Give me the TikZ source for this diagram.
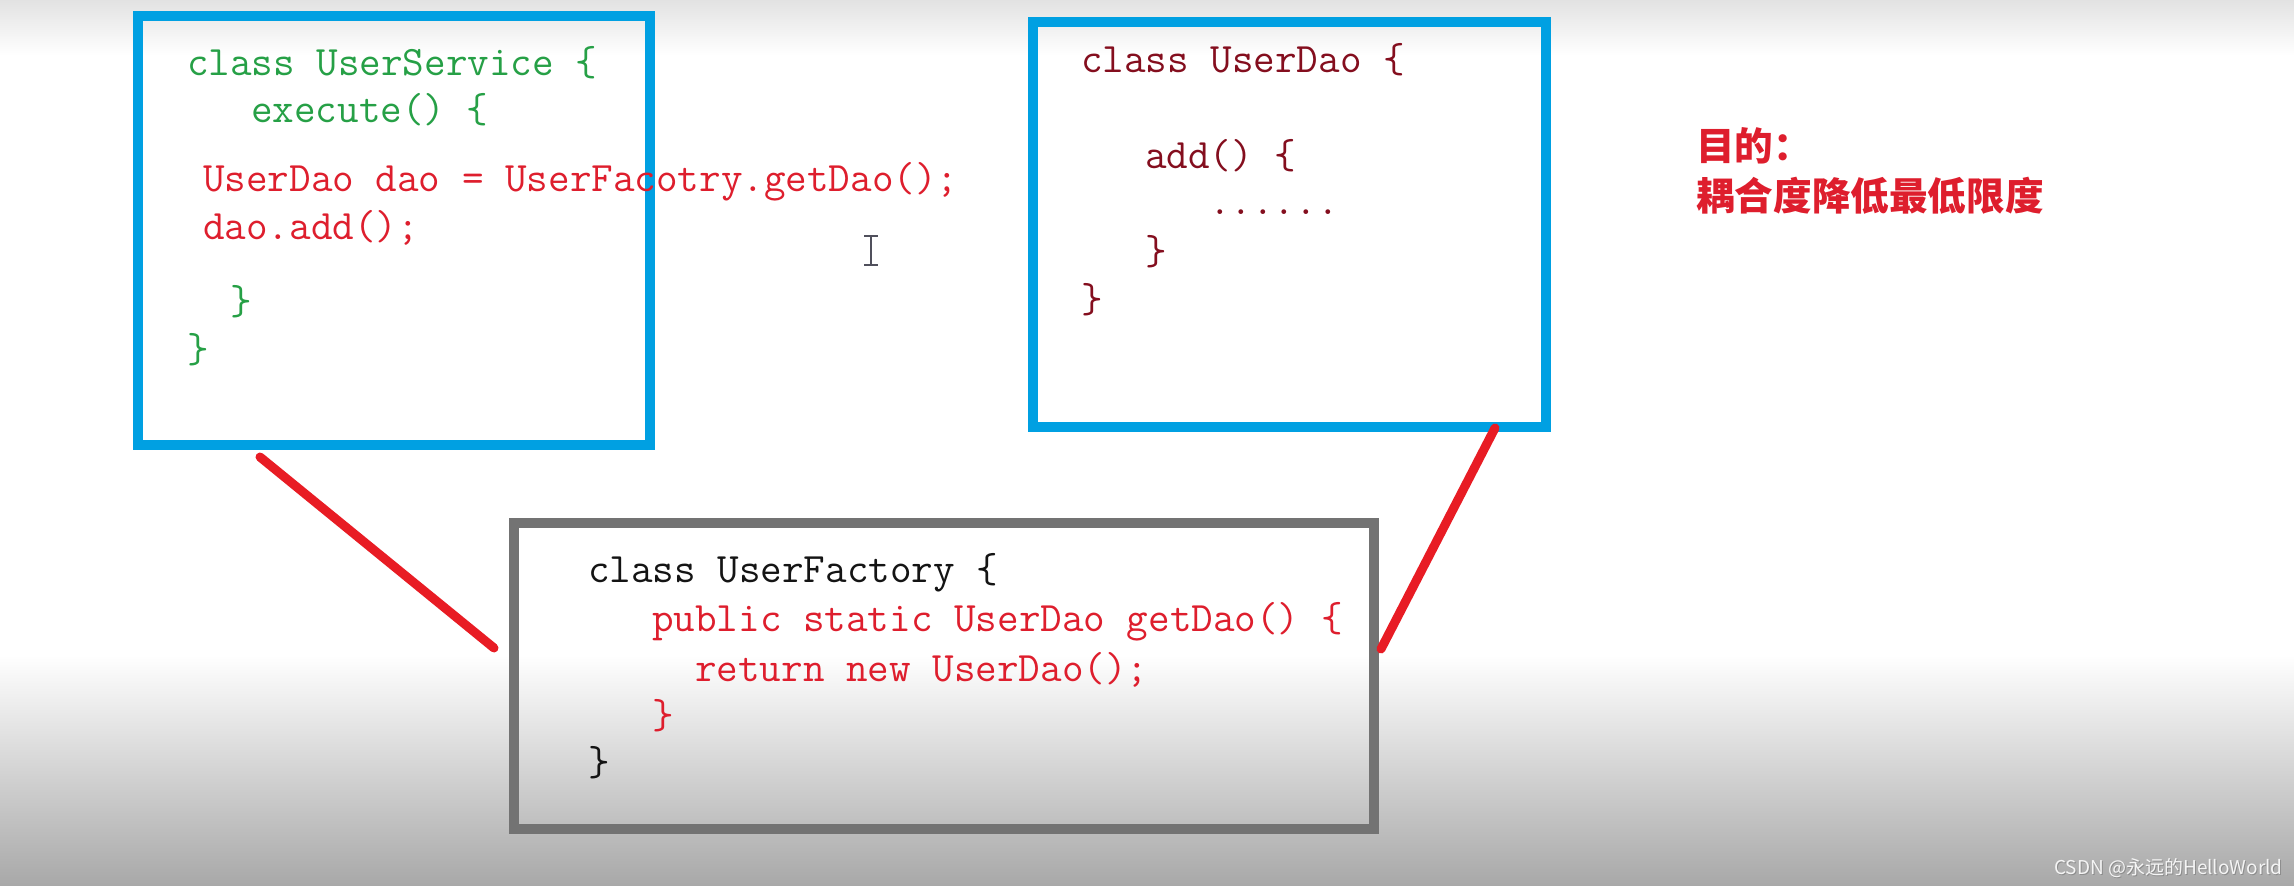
\documentclass[tikz,border=0pt]{standalone}
\usepackage{fontspec}
\newfontfamily\cjk{Noto Sans CJK SC}
\definecolor{boxblue}{RGB}{0,160,226}
\definecolor{boxgray}{RGB}{115,115,115}
\definecolor{codegreen}{RGB}{38,160,70}
\definecolor{codered}{RGB}{222,30,45}
\definecolor{codemaroon}{RGB}{132,14,30}
\definecolor{codeblack}{RGB}{20,20,20}
\definecolor{linkred}{RGB}{232,28,36}
\definecolor{bgtop}{RGB}{226,226,226}
\definecolor{bgbot}{RGB}{168,168,168}
\definecolor{cursorgray}{RGB}{80,80,92}
\newcommand{\codefnt}{\fontsize{41.9}{45}\selectfont\ttfamily}
\begin{document}
\begin{tikzpicture}[x=1pt,y=-1pt,
  bluebox/.style={draw=boxblue,line width=10pt,rectangle,inner sep=0pt},
  graybox/.style={draw=boxgray,line width=10pt,rectangle,inner sep=0pt},
  code/.style={anchor=base west,inner sep=0pt,font=\codefnt},
  link/.style={draw=linkred,line width=9pt,line cap=round},
  cn/.style={anchor=base west,inner sep=0pt,text=codered,font=\fontsize{38.6}{42}\selectfont\cjk\bfseries},
  wm/.style={anchor=base west,inner sep=0pt,font=\fontsize{19}{21}\selectfont\cjk}]
\useasboundingbox (0,0) rectangle (2294,886);
\fill[white] (0,0) rectangle (2294,886);
\shade[top color=bgtop,bottom color=white] (0,0) rectangle (2294,55);
\shade[top color=white,bottom color=bgbot] (0,655) rectangle (2294,886);

% boxes
\node[bluebox,minimum width=512pt,minimum height=428.5pt] (svc) at (394,230.25) {};
\node[bluebox,minimum width=513pt,minimum height=405pt] (dao) at (1289.5,224.5) {};
\node[graybox,minimum width=860pt,minimum height=306pt] (fac) at (944,676) {};

% UserService
\node[code,text=codegreen] (s1) at (187,75) {class UserService \{};
\node[code,text=codegreen] (s2) at (251,122) {execute() \{};
\node[code,text=codered] (s3) at (203,191) {UserDao dao = UserFacotry.getDao();};
\node[code,text=codered] (s4) at (203,239) {dao.add();};
\node[code,text=codegreen] (s5) at (230,314) {\}};
\node[code,text=codegreen] (s6) at (187,362) {\}};

% UserDao
\node[code,text=codemaroon] (d1) at (1081,72) {class UserDao \{};
\node[code,text=codemaroon] (d2) at (1145,168) {add() \{};
\node[code,text=codemaroon] (d3) at (1209,214) {......};
\node[code,text=codemaroon] (d4) at (1145,264) {\}};
\node[code,text=codemaroon] (d5) at (1081,312) {\}};

% UserFactory
\node[code,text=codeblack] (f1) at (588,582) {class UserFactory \{};
\node[code,text=codered] (f2) at (652,631) {public static UserDao getDao() \{};
\node[code,text=codered] (f3) at (695,681) {return new UserDao();};
\node[code,text=codered] (f4) at (652,728) {\}};
\node[code,text=codeblack] (f5) at (588,775) {\}};

% goal text
\node[cn] (g1) at (1696,160) {目的：};
\node[cn] (g2) at (1696,210) {耦合度降低最低限度};

% connectors
\coordinate (a1) at (260,457);
\coordinate (a2) at (494,648);
\coordinate (b1) at (1495,428);
\coordinate (b2) at (1381,649);
\draw[link] (a1) -- (a2);
\draw[link] (b1) -- (b2);

% text cursor
\draw[cursorgray,line width=2pt] (871,236) -- (871,265);
\draw[cursorgray,line width=1.6pt] (864,236) -- (878,236);
\draw[cursorgray,line width=1.6pt] (864,265) -- (878,265);

% watermark
\node[wm,text=black!45] (wms) at (2055,875) {CSDN @永远的HelloWorld};
\node[wm,text=white!96!black] (wmt) at (2054,874) {CSDN @永远的HelloWorld};
\end{tikzpicture}
\end{document}
